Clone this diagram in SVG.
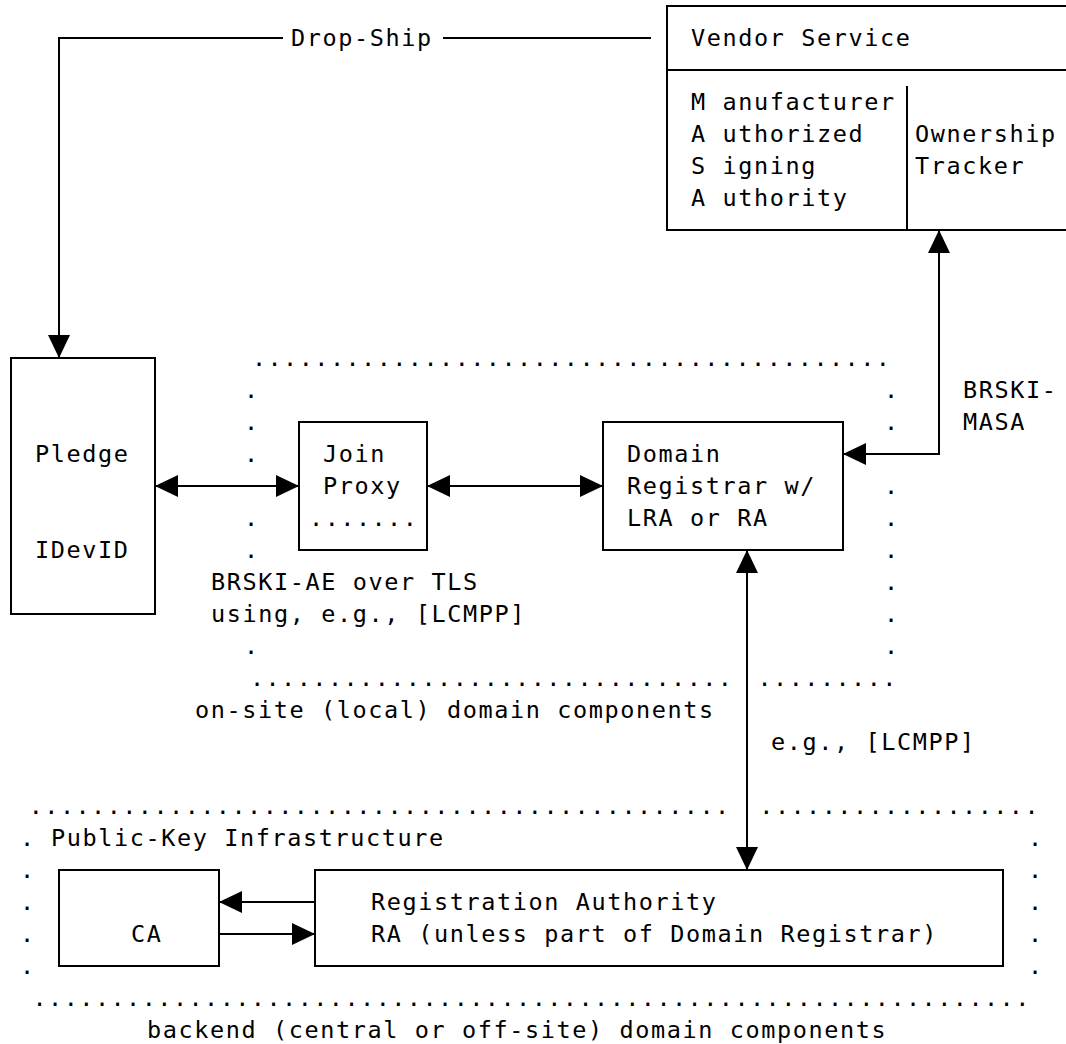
<svg xmlns="http://www.w3.org/2000/svg" width="1066" height="1044" viewBox="0 0 1066 1044">
<defs>
<style>
.t{font-family:"DejaVu Sans Mono","Liberation Mono",monospace;font-size:23.5px;letter-spacing:1.6px;fill:#000}
.d{font-family:"DejaVu Sans Mono","Liberation Mono",monospace;font-size:23.5px;letter-spacing:1.45px;fill:#000}
.box{fill:none;stroke:#000;stroke-width:2}
.ln{fill:none;stroke:#000;stroke-width:2}
</style>
<marker id="ah" viewBox="0 0 23 22" refX="23" refY="11" markerWidth="23" markerHeight="22" markerUnits="userSpaceOnUse" orient="auto-start-reverse"><path d="M0,0 L23,11 L0,22 z" fill="#000"/></marker>
</defs>
<rect width="1066" height="1044" fill="#fff"/>

<g id="onsite-domain">
<text class="d" x="251.9" y="366">.........................................</text>
<text class="d" x="249.9" y="686">...............................</text>
<text class="d" x="757.5" y="686">.........</text>
<text class="d" x="243.9" y="398">.</text>
<text class="d" x="243.9" y="430">.</text>
<text class="d" x="243.9" y="462">.</text>
<text class="d" x="243.9" y="526">.</text>
<text class="d" x="243.9" y="558">.</text>
<text class="d" x="243.9" y="654">.</text>
<text class="d" x="883.9" y="398">.</text>
<text class="d" x="883.9" y="430">.</text>
<text class="d" x="883.9" y="494">.</text>
<text class="d" x="883.9" y="526">.</text>
<text class="d" x="883.9" y="558">.</text>
<text class="d" x="883.9" y="590">.</text>
<text class="d" x="883.9" y="622">.</text>
<text class="d" x="883.9" y="654">.</text>
<text class="t" x="195" y="718">on-site (local) domain components</text>
</g>

<g id="pki">
<text class="d" x="28.7" y="814">.............................................</text>
<text class="d" x="759.3" y="814">..................</text>
<text class="d" x="19.9" y="846">.</text>
<text class="d" x="19.9" y="878">.</text>
<text class="d" x="19.9" y="910">.</text>
<text class="d" x="19.9" y="942">.</text>
<text class="d" x="19.9" y="974">.</text>
<text class="d" x="1027.9" y="846">.</text>
<text class="d" x="1027.9" y="878">.</text>
<text class="d" x="1027.9" y="910">.</text>
<text class="d" x="1027.9" y="942">.</text>
<text class="d" x="1027.9" y="974">.</text>
<text class="d" x="32.5" y="1006">................................................................</text>
<text class="t" x="51" y="846">Public-Key Infrastructure</text>
<text class="t" x="147" y="1038">backend (central or off-site) domain components</text>
</g>

<g id="vendor-service">
<rect class="box" x="667" y="6" width="400" height="224"/>
<line class="box" x1="667" y1="70" x2="1067" y2="70"/>
<line class="box" x1="907" y1="86" x2="907" y2="230"/>
<text class="t" x="691" y="46">Vendor Service</text>
<text class="t" x="691" y="110">M anufacturer</text>
<text class="t" x="691" y="142">A uthorized</text>
<text class="t" x="691" y="174">S igning</text>
<text class="t" x="691" y="206">A uthority</text>
<text class="t" x="915" y="142">Ownership</text>
<text class="t" x="915" y="174">Tracker</text>
</g>

<g id="pledge">
<rect class="box" x="11" y="358" width="144" height="256"/>
<text class="t" x="35" y="462">Pledge</text>
<text class="t" x="35" y="558">IDevID</text>
</g>

<g id="join-proxy">
<rect class="box" x="299" y="422" width="128" height="128"/>
<text class="t" x="323" y="462">Join</text>
<text class="t" x="323" y="494">Proxy</text>
<text class="d" x="309.1" y="526">.......</text>
</g>

<g id="domain-registrar">
<rect class="box" x="603" y="422" width="240" height="128"/>
<text class="t" x="627" y="462">Domain</text>
<text class="t" x="627" y="494">Registrar w/</text>
<text class="t" x="627" y="526">LRA or RA</text>
</g>

<g id="ca">
<rect class="box" x="59" y="870" width="160" height="96"/>
<text class="t" x="131" y="942">CA</text>
</g>

<g id="ra">
<rect class="box" x="315" y="870" width="688" height="96"/>
<text class="t" x="371" y="910">Registration Authority</text>
<text class="t" x="371" y="942">RA (unless part of Domain Registrar)</text>
</g>

<g id="connectors">
<path class="ln" d="M651,38 H443"/>
<path class="ln" d="M283,38 H59 V358" marker-end="url(#ah)"/>
<text class="t" x="291" y="46">Drop-Ship</text>
<line class="ln" x1="155" y1="486" x2="299" y2="486" marker-start="url(#ah)" marker-end="url(#ah)"/>
<line class="ln" x1="427" y1="486" x2="603" y2="486" marker-start="url(#ah)" marker-end="url(#ah)"/>
<path class="ln" d="M843,454 H939 V230" marker-start="url(#ah)" marker-end="url(#ah)"/>
<text class="t" x="963" y="398">BRSKI-</text>
<text class="t" x="963" y="430">MASA</text>
<text class="t" x="211" y="590">BRSKI-AE over TLS</text>
<text class="t" x="211" y="622">using, e.g., [LCMPP]</text>
<line class="ln" x1="747" y1="550" x2="747" y2="870" marker-start="url(#ah)" marker-end="url(#ah)"/>
<text class="t" x="771" y="750">e.g., [LCMPP]</text>
<line class="ln" x1="315" y1="902" x2="219" y2="902" marker-end="url(#ah)"/>
<line class="ln" x1="219" y1="934" x2="315" y2="934" marker-end="url(#ah)"/>
</g>
</svg>
